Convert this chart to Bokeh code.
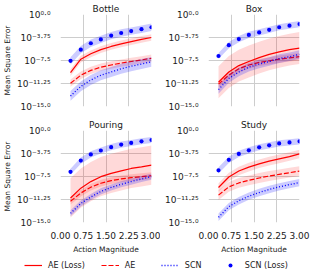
from bokeh.plotting import figure
from bokeh.layouts import column, row
from bokeh.models import Range1d, FixedTicker, Legend, LegendItem, NumeralTickFormatter
from bokeh.embed import file_html
from bokeh.resources import INLINE

# ---------------- data (log10 of mean square error) ----------------
action = [0.33, 0.67, 1.0, 1.33, 1.67, 2.0, 2.33, 2.67, 3.0]
titles = ["Bottle", "Box", "Pouring", "Study"]
series_names = ["AE (Loss)", "AE", "SCN", "SCN (Loss)"]

bottle_ae_loss = [-9.48, -7.29, -6.41, -5.73, -5.21, -4.79, -4.43, -4.06, -3.75]
bottle_ae = [-11.2, -9.9, -9.11, -8.59, -8.23, -7.92, -7.66, -7.40, -7.14]
bottle_scn = [-13.28, -11.72, -10.68, -9.9, -9.38, -8.85, -8.44, -8.07, -7.71]
bottle_scn_loss = [-7.55, -5.73, -4.69, -4.06, -3.44, -3.02, -2.71, -2.40, -2.08]
bottle_spread = [0.55, 0.6, 0.8, 0.6]

box_ae_loss = [-11.04, -9.38, -8.33, -7.66, -7.03, -6.51, -6.09, -5.73, -5.47]
box_ae = [-11.35, -9.9, -8.85, -8.23, -7.81, -7.55, -7.29, -7.08, -6.88]
box_scn = [-12.24, -10.42, -9.38, -8.59, -8.07, -7.66, -7.19, -6.88, -6.51]
box_scn_loss = [-6.77, -5.0, -4.01, -3.33, -2.92, -2.5, -2.08, -1.82, -1.56]
box_spread = [2.6, 0.6, 0.7, 0.5]

pouring_ae_loss = [-11.0, -9.4, -8.33, -7.53, -6.99, -6.57, -6.19, -5.93, -5.66]
pouring_ae = [-11.53, -10.2, -9.24, -8.6, -8.17, -7.9, -7.69, -7.53, -7.37]
pouring_scn = [-13.5, -11.9, -10.84, -9.93, -9.29, -8.76, -8.33, -7.9, -7.53]
pouring_scn_loss = [-6.73, -4.91, -3.90, -3.26, -2.72, -2.30, -2.03, -1.76, -1.55]
pouring_spread = [3.2, 0.55, 0.5, 0.5]

study_ae_loss = [-9.3, -7.58, -6.61, -5.97, -5.43, -5.0, -4.62, -4.25, -3.82]
study_ae = [-10.54, -9.19, -8.55, -8.12, -7.74, -7.42, -7.15, -6.88, -6.61]
study_scn = [-14.14, -12.42, -11.45, -10.7, -10.11, -9.62, -9.19, -8.82, -8.49]
study_scn_loss = [-6.5, -4.78, -3.82, -3.23, -2.74, -2.42, -2.10, -1.94, -1.77]
study_spread = [0.7, 0.8, 0.6, 0.5]

y_tick_exps = [0.0, -3.75, -7.5, -11.25, -15.0]
y_tick_labels = ["10\u2070\u00b7\u2070", "10\u207b\u00b3\u00b7\u2077\u2075", "10\u207b\u2077\u00b7\u2075",
                 "10\u207b\u00b9\u00b9\u00b7\u00b2\u2075", "10\u207b\u00b9\u2075\u00b7\u2070"]
x_ticks = [0.0, 0.75, 1.5, 2.25, 3.0]

panels = [
    [bottle_ae_loss, bottle_ae, bottle_scn, bottle_scn_loss, bottle_spread],
    [box_ae_loss, box_ae, box_scn, box_scn_loss, box_spread],
    [pouring_ae_loss, pouring_ae, pouring_scn, pouring_scn_loss, pouring_spread],
    [study_ae_loss, study_ae, study_scn, study_scn_loss, study_spread],
]

# ---------------- style ----------------
FONT = "DejaVu Sans"
TXT = "#1a1a1a"
RED = "#ff0000"
BLUE = "#0000ff"
GRID = "#cdcdcd"
FW, FH = 91, 92
DASH = "5 2"
DOT = "1 2"


def make_panel(idx):
    left_col = idx % 2 == 0
    bottom_row = idx >= 2
    ae_loss, ae, scn, scn_loss, spread = panels[idx]
    p = figure(
        frame_width=FW, frame_height=FH,
        x_range=Range1d(0, 3.0), y_range=Range1d(1e-15, 1.0),
        y_axis_type="log", output_backend="svg", toolbar_location=None,
        title=titles[idx],
        min_border_left=48,
        min_border_right=9 if left_col else 11,
        min_border_top=11 if not bottom_row else 16,
        min_border_bottom=8 if not bottom_row else 0,
    )
    p.outline_line_color = None
    p.background_fill_color = "white"
    p.title.text_font = FONT
    p.title.text_font_size = "9px"
    p.title.text_font_style = "normal"
    p.title.text_color = TXT
    p.title.align = "center"
    p.title.standoff = 2

    y_vals = [10 ** e for e in y_tick_exps]
    yt = FixedTicker(ticks=y_vals, minor_ticks=[])
    xt = FixedTicker(ticks=x_ticks, minor_ticks=[])
    p.ygrid.ticker = yt
    p.xgrid.ticker = xt
    for g in (p.xgrid, p.ygrid):
        g.grid_line_color = GRID
        g.grid_line_width = 1

    ya = p.yaxis[0]
    ya.ticker = yt
    ya.major_label_overrides = dict(zip(y_vals, y_tick_labels))
    ya.axis_line_color = None
    ya.major_tick_line_color = None
    ya.minor_tick_line_color = None
    ya.major_label_text_font = FONT
    ya.major_label_text_font_size = "9px"
    ya.major_label_text_color = TXT
    ya.major_label_standoff = 4
    if left_col:
        ya.axis_label = "Mean Square Error"
        ya.axis_label_text_font = FONT
        ya.axis_label_text_font_size = "7.5px"
        ya.axis_label_text_font_style = "normal"
        ya.axis_label_text_color = TXT
        ya.axis_label_standoff = 2

    if bottom_row:
        ax = p.xaxis[0]
        ax.ticker = xt
        ax.formatter = NumeralTickFormatter(format="0.00")
        ax.axis_line_color = None
        ax.major_tick_line_color = None
        ax.minor_tick_line_color = None
        ax.major_label_text_font = FONT
        ax.major_label_text_font_size = "9px"
        ax.major_label_text_color = TXT
        ax.major_label_standoff = 3
        ax.axis_label = "Action Magnitude"
        ax.axis_label_text_font = FONT
        ax.axis_label_text_font_size = "7.5px"
        ax.axis_label_text_font_style = "normal"
        ax.axis_label_text_color = TXT
        ax.axis_label_standoff = 3
    else:
        p.xaxis.visible = False

    def band(vals, s, color, alpha):
        lo = [10 ** (v - s) for v in vals]
        hi = [10 ** (v + s) for v in vals]
        p.varea(x=action, y1=lo, y2=hi, fill_color=color, fill_alpha=alpha)

    band(ae_loss, spread[0], RED, 0.15)
    p.line(action, [10 ** v for v in ae_loss], line_color=RED, line_width=1.2)
    band(ae, spread[1], RED, 0.15)
    p.line(action, [10 ** v for v in ae], line_color=RED, line_width=1.2, line_dash=DASH)
    band(scn, spread[2], BLUE, 0.2)
    p.line(action, [10 ** v for v in scn], line_color=BLUE, line_width=1.3, line_dash=DOT)
    band(scn_loss, spread[3], BLUE, 0.2)
    p.scatter(action, [10 ** v for v in scn_loss], size=4.2, fill_color=BLUE, line_color=None)
    return p


figs = [make_panel(i) for i in range(4)]

# ---------------- legend ----------------
lg = figure(width=298, height=17, output_backend="svg", toolbar_location=None,
            x_range=Range1d(0, 1), y_range=Range1d(0, 1),
            min_border=0, min_border_left=0, min_border_right=0, min_border_top=0, min_border_bottom=0)
lg.axis.visible = False
lg.grid.visible = False
lg.outline_line_color = None
nan = [float("nan")]
r1 = lg.line(nan, nan, line_color=RED, line_width=1.2)
r2 = lg.line(nan, nan, line_color=RED, line_width=1.2, line_dash=DASH)
r3 = lg.line(nan, nan, line_color=BLUE, line_width=1.3, line_dash=DOT)
r4 = lg.scatter(nan, nan, size=4.2, fill_color=BLUE, line_color=None)
legend = Legend(items=[LegendItem(label=series_names[0], renderers=[r1]),
                       LegendItem(label=series_names[1], renderers=[r2]),
                       LegendItem(label=series_names[2], renderers=[r3]),
                       LegendItem(label=series_names[3], renderers=[r4])],
                orientation="horizontal", location=(24, 3),
                glyph_width=18, glyph_height=10, label_height=10, label_standoff=6,
                spacing=16, padding=0, margin=0, border_line_color=None,
                background_fill_alpha=0, label_text_font=FONT,
                label_text_font_size="8px", label_text_color=TXT)
lg.add_layout(legend, "center")

layout = column(row(figs[0], figs[1]), row(figs[2], figs[3]), lg)

with open("out.html", "w") as f:
    f.write(file_html(layout, INLINE))
